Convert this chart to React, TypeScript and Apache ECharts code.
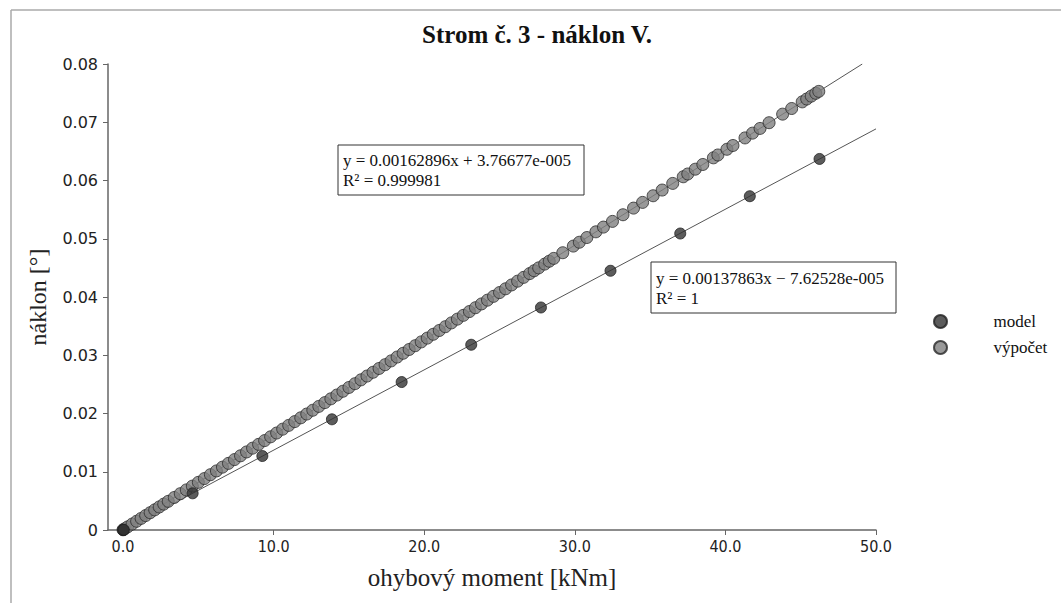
import React, { useEffect, useRef } from "react";
import * as echarts from "echarts";

const chartTitle = "Strom č. 3 - náklon V.";
const xName = "ohybový moment [kNm]";
const yName = "náklon [°]";
const seriesNames = ["model", "výpočet"];
const xTicks = [0, 10, 20, 30, 40, 50];

const modelX = [0, 0.02, 0.05, 4.62, 9.25, 13.87, 18.5, 23.12, 27.75, 32.37, 37.0, 41.62, 46.25];
const modelY = [0, 0.0, 0.00003, 0.0063, 0.0127, 0.019, 0.0254, 0.0318, 0.0382, 0.0445, 0.0509, 0.0573, 0.0637];

const calcX = [
  0, 0.1, 0.3, 0.6, 0.9, 1.2, 1.5, 1.8, 2.1, 2.4, 2.7, 3.0, 3.4, 3.8, 4.2, 4.6, 5.0, 5.4, 5.8, 6.2,
  6.6, 7.0, 7.4, 7.8, 8.2, 8.6, 9.0, 9.4, 9.8, 10.2, 10.6, 11.0, 11.4, 11.8, 12.2, 12.6, 13.0, 13.4,
  13.8, 14.2, 14.6, 15.0, 15.4, 15.8, 16.2, 16.6, 17.0, 17.4, 17.8, 18.2, 18.6, 19.0, 19.4, 19.8,
  20.2, 20.6, 21.0, 21.4, 21.8, 22.2, 22.6, 23.0, 23.4, 23.8, 24.2, 24.6, 25.0, 25.4, 25.8, 26.2,
  26.6, 27.0, 27.3, 27.6, 28.0, 28.3, 28.6, 29.2, 29.9, 30.3, 30.8, 31.4, 31.9, 32.5, 33.2, 33.9,
  34.5, 35.2, 35.8, 36.5, 37.2, 37.5, 38.0, 38.5, 39.2, 39.5, 40.1, 40.5, 41.3, 41.8, 42.3, 42.9,
  43.8, 44.4, 45.1, 45.4, 45.7, 46.0, 46.2,
];
const calcY = [
  0.00004, 0.0002, 0.00053, 0.00101, 0.0015, 0.00199, 0.00248, 0.00297, 0.00346, 0.00395, 0.00444,
  0.00492, 0.00558, 0.00623, 0.00688, 0.00753, 0.00818, 0.00883, 0.00949, 0.01014, 0.01079, 0.01144,
  0.01209, 0.01274, 0.0134, 0.01405, 0.0147, 0.01535, 0.016, 0.01665, 0.01731, 0.01796, 0.01861,
  0.01926, 0.01991, 0.02056, 0.02122, 0.02187, 0.02252, 0.02317, 0.02382, 0.02447, 0.02512, 0.02578,
  0.02643, 0.02708, 0.02773, 0.02838, 0.02903, 0.02969, 0.03034, 0.03099, 0.03164, 0.03229, 0.03294,
  0.0336, 0.03425, 0.0349, 0.03555, 0.0362, 0.03685, 0.0375, 0.03816, 0.03881, 0.03946, 0.04011,
  0.04076, 0.04141, 0.04207, 0.04272, 0.04337, 0.04402, 0.04451, 0.045, 0.04565, 0.04614, 0.04663,
  0.0476, 0.04874, 0.0494, 0.05021, 0.05119, 0.052, 0.05298, 0.05412, 0.05526, 0.05624, 0.05738,
  0.05836, 0.0595, 0.06064, 0.06112, 0.06194, 0.06275, 0.06389, 0.06438, 0.06536, 0.06601, 0.06731,
  0.06813, 0.06894, 0.06992, 0.07139, 0.07236, 0.0735, 0.07399, 0.07448, 0.07497, 0.0753,
];

const trendModelX = [0, 50];
const trendModelY = [-0.0000763, 0.06886];
const trendCalcX = [0, 49.09];
const trendCalcY = [0.0000377, 0.08];

const eqCalc = ["y = 0.00162896x + 3.76677e-005", "R² = 0.999981"];
const eqModel = ["y = 0.00137863x − 7.62528e-005", "R² = 1"];

const SERIF = "'Liberation Serif', 'Times New Roman', serif";
const SANS = "'DejaVu Sans', sans-serif";
const NARROW = "'Liberation Sans Narrow', 'DejaVu Sans Condensed', 'Liberation Sans', sans-serif";

const zip = (xs: number[], ys: number[]) => xs.map((x, i) => [x, ys[i]]);

function eqBox(x: number, y: number, w: number, h: number, lines: string[], ly: number[]) {
  return {
    type: "group",
    children: [
      {
        type: "rect",
        shape: { x, y, width: w, height: h },
        style: { fill: "#fff", stroke: "#333", lineWidth: 1 },
      },
      ...lines.map((t, i) => ({
        type: "text",
        x: x + 5,
        y: ly[i],
        style: {
          text: t,
          font: `17px ${SERIF}`,
          fill: "#111",
          textVerticalAlign: "middle",
          verticalAlign: "middle",
        },
      })),
    ],
  };
}

export default function App() {
  const ref = useRef<HTMLDivElement>(null);
  useEffect(() => {
    document.body.style.margin = "0";
    const chart = echarts.init(ref.current!, null, { renderer: "svg" });
    chart.setOption({
      animation: false,
      backgroundColor: "#fff",
      grid: { left: 108, right: 185, top: 64, bottom: 73 },
      legend: {
        orient: "vertical",
        left: 928,
        top: 308,
        itemWidth: 14,
        itemHeight: 13,
        itemGap: 9,
        icon: "circle",
        data: seriesNames,
        textStyle: { fontFamily: SERIF, fontSize: 17, color: "#111", padding: [0, 0, 0, 41] },
      },
      xAxis: {
        type: "value",
        min: -1,
        max: 50,
        name: xName,
        nameLocation: "middle",
        nameGap: 35,
        nameTextStyle: { fontFamily: SERIF, fontSize: 25, color: "#222" },
        axisLine: { show: true, onZero: false, lineStyle: { color: "#666", width: 1.5 } },
        axisTick: { show: true, length: 5, customValues: xTicks, lineStyle: { color: "#666" } },
        axisLabel: {
          customValues: xTicks,
          formatter: (v: number) => v.toFixed(1),
          fontFamily: NARROW,
          fontSize: 16,
          color: "#222",
          margin: 8,
        },
        splitLine: { show: false },
      },
      yAxis: {
        type: "value",
        min: 0,
        max: 0.08,
        interval: 0.01,
        name: yName,
        nameLocation: "middle",
        nameGap: 58,
        nameTextStyle: { fontFamily: SERIF, fontSize: 24, color: "#222" },
        axisLine: { show: true, onZero: false, lineStyle: { color: "#666", width: 1.5 } },
        axisTick: { show: true, length: 5, lineStyle: { color: "#666" } },
        axisLabel: {
          formatter: (v: number) => (v === 0 ? "0" : v.toFixed(2)),
          fontFamily: SANS,
          fontSize: 16,
          color: "#222",
          margin: 10,
        },
        splitLine: { show: false },
      },
      series: [
        {
          name: "trend-model",
          type: "line",
          data: zip(trendModelX, trendModelY),
          symbol: "none",
          lineStyle: { color: "#555", width: 1 },
          silent: true,
          z: 1,
        },
        {
          name: "trend-calc",
          type: "line",
          data: zip(trendCalcX, trendCalcY),
          symbol: "none",
          lineStyle: { color: "#555", width: 1 },
          silent: true,
          z: 1,
        },
        {
          name: seriesNames[0],
          type: "scatter",
          data: zip(modelX, modelY),
          symbol: "circle",
          symbolSize: 11,
          itemStyle: { color: "#333", borderColor: "#222", borderWidth: 1 },
          z: 3,
        },
        {
          name: seriesNames[1],
          type: "scatter",
          data: zip(calcX, calcY),
          symbol: "circle",
          symbolSize: 12,
          itemStyle: { color: "#7f7f7f", borderColor: "#2a2a2a", borderWidth: 1 },
          z: 2,
        },
      ],
      graphic: [
        {
          type: "line",
          shape: { x1: 11, y1: 10, x2: 1061, y2: 10 },
          style: { stroke: "#aaa", lineWidth: 1.5 },
        },
        {
          type: "line",
          shape: { x1: 11, y1: 10, x2: 11, y2: 603 },
          style: { stroke: "#aaa", lineWidth: 1.5 },
        },
        {
          type: "text",
          x: 537,
          y: 34,
          style: {
            text: chartTitle,
            font: `bold 25px ${SERIF}`,
            fill: "#111",
            textAlign: "center",
            textVerticalAlign: "middle",
            align: "center",
            verticalAlign: "middle",
          },
        },
        eqBox(338, 145, 246, 50, eqCalc, [160, 180]),
        eqBox(651, 262, 245, 51, eqModel, [278, 298]),
      ],
    });
    return () => chart.dispose();
  }, []);
  return <div ref={ref} style={{ width: 1061, height: 603 }} />;
}
